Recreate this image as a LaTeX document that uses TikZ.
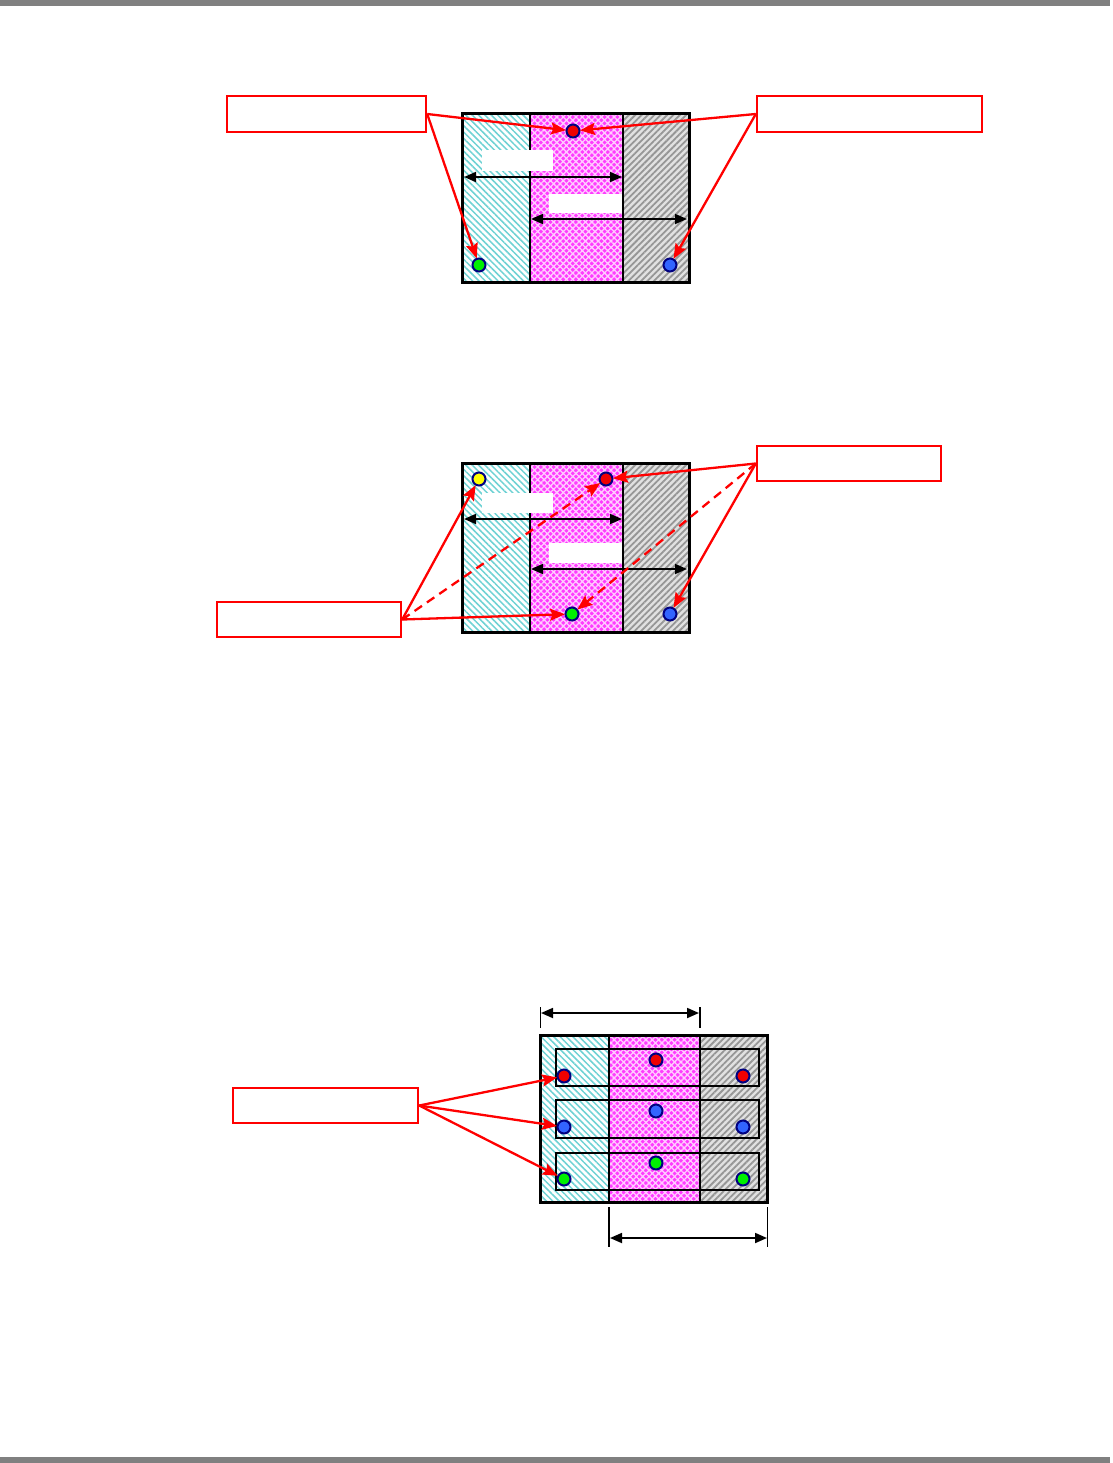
\documentclass[tikz,border=0pt]{standalone}
\usetikzlibrary{patterns,patterns.meta,arrows.meta,calc}
\definecolor{hcyan}{RGB}{110,210,212}
\definecolor{hgray}{RGB}{150,150,150}
\definecolor{lgray}{RGB}{225,225,225}
\definecolor{hmag}{RGB}{255,60,255}
\definecolor{hmagl}{RGB}{255,205,255}
\definecolor{navyd}{RGB}{0,0,128}
\definecolor{barg}{RGB}{128,128,128}
\definecolor{dblue}{RGB}{50,100,255}
\definecolor{dgreen}{RGB}{0,240,0}
\definecolor{dyellow}{RGB}{255,255,0}
\definecolor{dred}{RGB}{240,0,0}
\begin{document}
\begin{tikzpicture}[x=1pt,y=-1pt,
  cyanfill/.style={preaction={fill=white},pattern={Lines[angle=-45,distance=4.5pt,line width=1.5pt]},pattern color=hcyan},
  grayfill/.style={preaction={fill=lgray},pattern={Lines[angle=45,distance=4.5pt,line width=1.8pt]},pattern color=hgray},
  magfill/.style={preaction={fill=hmag},pattern={Hatch[angle=45,distance=4.5pt,line width=1.3pt]},pattern color=hmagl},
  frame/.style={draw=black,line width=3pt},
  divider/.style={draw=black,line width=1.6pt},
  dot/.style={circle,draw=navyd,line width=2pt,fill=#1,minimum size=13pt,inner sep=0pt,outer sep=0.5pt},
  lbox/.style={draw=red,line width=2.4pt,fill=white,inner sep=0pt},
  wbox/.style={fill=white,inner sep=0pt},
  rarrow/.style={red,line width=2.3pt,-{Stealth[length=15pt,width=12pt,inset=2.5pt]}},
  rdash/.style={rarrow,dash pattern=on 9pt off 6pt},
  barrow/.style={black,line width=1.8pt,{Triangle[length=12pt,width=10pt]}-{Triangle[length=12pt,width=10pt]}},
  ext/.style={black,line width=1.2pt},
  thinbox/.style={draw=black,line width=1.2pt}
]
\useasboundingbox (0,0) rectangle (1112,1463);
\fill[barg] (0,0) rectangle (1110,6);
\fill[barg] (0,1457) rectangle (1110,1463);

% ---------- Diagram 1 ----------
\path[cyanfill] (462,114) rectangle (530,282);
\path[magfill] (530,114) rectangle (623,282);
\path[grayfill] (623,114) rectangle (689,282);
\draw[divider] (530,114) -- (530,282);
\draw[divider] (623,114) -- (623,282);
\draw[frame] (462,114) rectangle (689,282);
\node[wbox,minimum width=71pt,minimum height=21pt] (w1a) at (517.5,160.5) {};
\node[wbox,minimum width=73pt,minimum height=19pt] (w1b) at (585.5,203.5) {};
\coordinate (a1l) at (464,177);
\coordinate (a1r) at (622,177);
\coordinate (a2l) at (531,219);
\coordinate (a2r) at (687,219);
\draw[barrow] (a1l) -- (a1r);
\draw[barrow] (a2l) -- (a2r);
\node[dot=dred] (d1r) at (573,131) {};
\node[dot=dgreen] (d1g) at (479,265) {};
\node[dot=dblue] (d1b) at (670,265) {};
\node[lbox,minimum width=199pt,minimum height=36pt] (b1) at (326.5,114) {};
\node[lbox,minimum width=225pt,minimum height=36pt] (b2) at (869.5,114) {};
\draw[rarrow] (b1.east) -- (d1r);
\draw[rarrow] (b1.east) -- (d1g);
\draw[rarrow] (b2.west) -- (d1r);
\draw[rarrow] (b2.west) -- (d1b);

% ---------- Diagram 2 ----------
\path[cyanfill] (462,463) rectangle (530,632);
\path[magfill] (530,463) rectangle (623,632);
\path[grayfill] (623,463) rectangle (689,632);
\draw[divider] (530,463) -- (530,632);
\draw[divider] (623,463) -- (623,632);
\draw[frame] (462,463) rectangle (689,632);
\node[wbox,minimum width=71pt,minimum height=20pt] (w2a) at (517.5,503) {};
\node[wbox,minimum width=73pt,minimum height=20pt] (w2b) at (585.5,553) {};
\coordinate (c1l) at (464,519);
\coordinate (c1r) at (622,519);
\coordinate (c2l) at (531,569);
\coordinate (c2r) at (687,569);
\draw[barrow] (c1l) -- (c1r);
\draw[barrow] (c2l) -- (c2r);
\node[dot=dyellow] (d2y) at (479,479) {};
\node[dot=dred] (d2r) at (606,479) {};
\node[dot=dgreen] (d2g) at (572,614) {};
\node[dot=dblue] (d2b) at (670,614) {};
\node[lbox,minimum width=184pt,minimum height=35pt] (b3) at (849,463.5) {};
\node[lbox,minimum width=184pt,minimum height=35pt] (b4) at (309,619.5) {};
\draw[rarrow] (b4.east) -- (d2y);
\draw[rdash] (b4.east) -- (d2r);
\draw[rarrow] (b4.east) -- (d2g);
\draw[rarrow] (b3.west) -- (d2r);
\draw[rdash] (b3.west) -- (d2g);
\draw[rarrow] (b3.west) -- (d2b);

% ---------- Diagram 3 ----------
\path[cyanfill] (540,1035) rectangle (609,1202);
\path[magfill] (609,1035) rectangle (700,1202);
\path[grayfill] (700,1035) rectangle (767,1202);
\node[thinbox,minimum width=203pt,minimum height=37pt,inner sep=0pt] (r1) at (657.5,1067.5) {};
\node[thinbox,minimum width=203pt,minimum height=38pt,inner sep=0pt] (r2) at (657.5,1119) {};
\node[thinbox,minimum width=203pt,minimum height=37pt,inner sep=0pt] (r3) at (657.5,1171.5) {};
\draw[divider] (609,1035) -- (609,1202);
\draw[divider] (700,1035) -- (700,1202);
\draw[frame] (540,1035) rectangle (767,1202);
\node[dot=dred] (e1m) at (656,1060) {};
\node[dot=dred] (e1l) at (564,1076) {};
\node[dot=dred] (e1r) at (743,1076) {};
\node[dot=dblue] (e2m) at (656,1111) {};
\node[dot=dblue] (e2l) at (564,1127) {};
\node[dot=dblue] (e2r) at (743,1127) {};
\node[dot=dgreen] (e3m) at (656,1163) {};
\node[dot=dgreen] (e3l) at (564,1179) {};
\node[dot=dgreen] (e3r) at (743,1179) {};
% dimension lines
\coordinate (t1a) at (540.5,1007); \coordinate (t1b) at (540.5,1028);
\coordinate (t2a) at (700,1007); \coordinate (t2b) at (700,1028);
\draw[ext] (t1a) -- (t1b);
\draw[ext] (t2a) -- (t2b);
\coordinate (ta) at (541,1013); \coordinate (tb) at (699,1013);
\draw[barrow] (ta) -- (tb);
\coordinate (u1a) at (609,1207); \coordinate (u1b) at (609,1247);
\coordinate (u2a) at (767.5,1207); \coordinate (u2b) at (767.5,1247);
\draw[ext] (u1a) -- (u1b);
\draw[ext] (u2a) -- (u2b);
\coordinate (ua) at (610,1238); \coordinate (ub) at (767,1238);
\draw[barrow] (ua) -- (ub);
\node[lbox,minimum width=185pt,minimum height=35pt] (b5) at (325.5,1105.5) {};
\draw[rarrow] (b5.east) -- (e1l);
\draw[rarrow] (b5.east) -- (e2l);
\draw[rarrow] (b5.east) -- (e3l);
\end{tikzpicture}
\end{document}
